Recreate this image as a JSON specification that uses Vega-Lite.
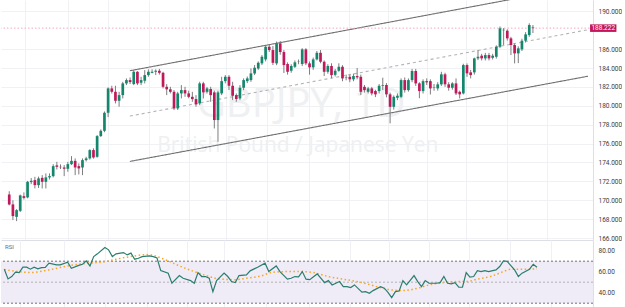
{
  "$schema": "https://vega.github.io/schema/vega-lite/v6.json",
  "padding": 0,
  "autosize": {"type": "pad"},
  "background": "#ffffff",
  "spacing": 0,
  "bounds": "flush",
  "config": {
    "view": {"stroke": null},
    "font": "Roboto",
    "axis": {"labelFont": "Roboto", "labelFontSize": 6.5, "labelColor": "#3b3b3b", "ticks": false, "tickSize": 0, "labelPadding": 5, "labelOverlap": false, "labelFlush": false, "gridColor": "#eff1f4", "domainColor": "#dcdfe6"}
  },
  "datasets": {
    "bars": [
      {"i":0,"o":170.61,"h":170.95,"l":169.45,"c":169.56},
      {"i":1,"o":169.56,"h":170.0,"l":167.9,"c":168.32},
      {"i":2,"o":168.24,"h":169.06,"l":167.79,"c":168.95},
      {"i":3,"o":168.88,"h":170.6,"l":168.75,"c":170.51},
      {"i":4,"o":170.43,"h":170.83,"l":170.08,"c":170.25},
      {"i":5,"o":170.30,"h":172.05,"l":170.2,"c":171.95},
      {"i":6,"o":171.92,"h":172.35,"l":171.7,"c":172.06},
      {"i":7,"o":172.13,"h":172.48,"l":171.25,"c":171.60},
      {"i":8,"o":171.60,"h":172.5,"l":171.3,"c":172.31},
      {"i":9,"o":172.37,"h":172.66,"l":171.25,"c":171.95},
      {"i":10,"o":171.95,"h":172.84,"l":171.25,"c":172.42},
      {"i":11,"o":172.42,"h":172.84,"l":172.2,"c":172.55},
      {"i":12,"o":172.55,"h":173.82,"l":172.42,"c":173.61},
      {"i":13,"o":173.69,"h":174.07,"l":173.26,"c":173.54},
      {"i":14,"o":173.54,"h":173.8,"l":173.3,"c":173.5},
      {"i":15,"o":173.47,"h":173.72,"l":172.55,"c":173.33},
      {"i":16,"o":173.33,"h":174.07,"l":173.01,"c":173.82},
      {"i":17,"o":173.82,"h":174.67,"l":173.72,"c":174.17},
      {"i":18,"o":174.17,"h":174.43,"l":172.66,"c":173.47},
      {"i":19,"o":173.61,"h":173.9,"l":172.73,"c":173.37},
      {"i":20,"o":173.47,"h":174.43,"l":172.66,"c":174.25},
      {"i":21,"o":174.25,"h":174.6,"l":174.1,"c":174.43},
      {"i":22,"o":174.43,"h":175.4,"l":174.3,"c":175.31},
      {"i":23,"o":175.31,"h":175.5,"l":174.4,"c":174.53},
      {"i":24,"o":174.60,"h":176.9,"l":174.5,"c":176.79},
      {"i":25,"o":176.79,"h":177.5,"l":176.7,"c":177.35},
      {"i":26,"o":177.35,"h":179.4,"l":177.2,"c":179.26},
      {"i":27,"o":179.26,"h":181.95,"l":178.8,"c":181.84},
      {"i":28,"o":181.84,"h":182.12,"l":181.3,"c":181.48},
      {"i":29,"o":181.48,"h":182.12,"l":180.25,"c":180.53},
      {"i":30,"o":180.53,"h":181.48,"l":179.9,"c":181.13},
      {"i":31,"o":181.13,"h":182.54,"l":180.78,"c":182.37},
      {"i":32,"o":182.37,"h":182.9,"l":182.19,"c":182.72},
      {"i":33,"o":182.72,"h":183.0,"l":182.3,"c":182.51},
      {"i":34,"o":182.30,"h":183.78,"l":182.19,"c":183.60},
      {"i":35,"o":183.60,"h":183.67,"l":182.19,"c":182.37},
      {"i":36,"o":182.44,"h":183.07,"l":182.19,"c":182.72},
      {"i":37,"o":182.65,"h":183.78,"l":182.37,"c":183.25},
      {"i":38,"o":183.25,"h":183.86,"l":183.07,"c":183.60},
      {"i":39,"o":183.49,"h":183.86,"l":183.43,"c":183.60},
      {"i":40,"o":183.60,"h":183.86,"l":183.25,"c":183.71},
      {"i":41,"o":183.71,"h":183.9,"l":183.3,"c":183.49},
      {"i":42,"o":183.49,"h":183.6,"l":181.84,"c":182.01},
      {"i":43,"o":182.01,"h":182.30,"l":181.13,"c":181.74},
      {"i":44,"o":181.74,"h":182.01,"l":181.31,"c":181.48},
      {"i":45,"o":181.48,"h":181.66,"l":179.55,"c":179.72},
      {"i":46,"o":179.72,"h":181.48,"l":179.55,"c":181.31},
      {"i":47,"o":181.31,"h":182.19,"l":180.78,"c":181.66},
      {"i":48,"o":181.66,"h":182.01,"l":180.95,"c":181.31},
      {"i":49,"o":181.31,"h":181.6,"l":180.8,"c":180.95},
      {"i":50,"o":180.95,"h":181.48,"l":180.42,"c":180.71},
      {"i":51,"o":180.71,"h":181.13,"l":179.9,"c":180.15},
      {"i":52,"o":180.25,"h":182.54,"l":180.07,"c":182.37},
      {"i":53,"o":182.37,"h":182.54,"l":180.78,"c":181.42},
      {"i":54,"o":181.48,"h":182.0,"l":181.3,"c":181.84},
      {"i":55,"o":181.77,"h":182.01,"l":180.42,"c":181.13},
      {"i":56,"o":181.42,"h":181.6,"l":177.6,"c":178.49},
      {"i":57,"o":178.49,"h":181.6,"l":176.19,"c":181.42},
      {"i":58,"o":181.31,"h":183.07,"l":181.13,"c":182.61},
      {"i":59,"o":182.61,"h":183.25,"l":182.37,"c":183.07},
      {"i":60,"o":183.07,"h":183.25,"l":181.66,"c":182.12},
      {"i":61,"o":182.12,"h":182.54,"l":180.6,"c":181.06},
      {"i":62,"o":181.13,"h":181.31,"l":180.42,"c":180.71},
      {"i":63,"o":180.78,"h":182.19,"l":180.6,"c":181.91},
      {"i":64,"o":181.91,"h":182.9,"l":181.66,"c":182.72},
      {"i":65,"o":182.61,"h":183.1,"l":182.4,"c":182.90},
      {"i":66,"o":182.72,"h":183.96,"l":182.54,"c":183.43},
      {"i":67,"o":183.43,"h":184.31,"l":183.25,"c":184.03},
      {"i":68,"o":183.96,"h":184.7,"l":183.8,"c":184.55},
      {"i":69,"o":184.49,"h":185.37,"l":184.31,"c":185.19},
      {"i":70,"o":184.91,"h":186.4,"l":184.7,"c":186.25},
      {"i":71,"o":186.25,"h":186.5,"l":185.7,"c":185.90},
      {"i":72,"o":185.90,"h":186.32,"l":184.31,"c":184.55},
      {"i":73,"o":184.49,"h":186.8,"l":184.3,"c":186.61},
      {"i":74,"o":186.61,"h":186.85,"l":185.4,"c":185.69},
      {"i":75,"o":185.69,"h":185.9,"l":183.47,"c":184.31},
      {"i":76,"o":184.42,"h":184.6,"l":183.3,"c":183.60},
      {"i":77,"o":183.71,"h":184.4,"l":183.5,"c":184.21},
      {"i":78,"o":184.13,"h":184.8,"l":184.0,"c":184.60},
      {"i":79,"o":184.65,"h":184.9,"l":184.4,"c":184.68},
      {"i":80,"o":184.42,"h":186.1,"l":184.2,"c":185.97},
      {"i":81,"o":185.97,"h":186.1,"l":184.3,"c":184.49},
      {"i":82,"o":184.49,"h":184.7,"l":183.3,"c":184.07},
      {"i":83,"o":184.07,"h":185.1,"l":183.8,"c":184.91},
      {"i":84,"o":184.91,"h":185.8,"l":184.8,"c":185.61},
      {"i":85,"o":185.61,"h":185.9,"l":184.5,"c":184.66},
      {"i":86,"o":184.66,"h":184.8,"l":183.15,"c":183.60},
      {"i":87,"o":183.60,"h":184.4,"l":183.4,"c":184.21},
      {"i":88,"o":184.21,"h":184.5,"l":182.9,"c":183.25},
      {"i":89,"o":183.28,"h":183.9,"l":183.1,"c":183.71},
      {"i":90,"o":183.71,"h":184.5,"l":183.6,"c":184.13},
      {"i":91,"o":184.13,"h":184.3,"l":182.6,"c":182.90},
      {"i":92,"o":183.0,"h":183.3,"l":182.7,"c":183.05},
      {"i":93,"o":183.07,"h":183.3,"l":182.5,"c":182.80},
      {"i":94,"o":182.80,"h":183.4,"l":182.6,"c":183.15},
      {"i":95,"o":183.15,"h":184.0,"l":182.8,"c":183.01},
      {"i":96,"o":183.07,"h":183.3,"l":181.13,"c":181.48},
      {"i":97,"o":182.01,"h":182.2,"l":181.4,"c":181.66},
      {"i":98,"o":181.48,"h":182.0,"l":181.3,"c":181.84},
      {"i":99,"o":181.84,"h":182.0,"l":181.1,"c":181.31},
      {"i":100,"o":181.56,"h":181.7,"l":180.92,"c":181.21},
      {"i":101,"o":181.56,"h":182.3,"l":181.3,"c":182.12},
      {"i":102,"o":182.12,"h":182.97,"l":181.66,"c":182.2},
      {"i":103,"o":182.2,"h":182.4,"l":180.9,"c":181.21},
      {"i":104,"o":181.21,"h":181.4,"l":178.14,"c":179.89},
      {"i":105,"o":179.89,"h":181.1,"l":179.6,"c":180.95},
      {"i":106,"o":180.85,"h":181.3,"l":180.6,"c":181.06},
      {"i":107,"o":180.95,"h":182.9,"l":180.8,"c":182.72},
      {"i":108,"o":182.72,"h":183.0,"l":181.4,"c":181.66},
      {"i":109,"o":181.66,"h":182.9,"l":181.5,"c":182.72},
      {"i":110,"o":182.72,"h":183.9,"l":182.5,"c":183.68},
      {"i":111,"o":183.68,"h":183.9,"l":182.1,"c":182.37},
      {"i":112,"o":182.37,"h":182.5,"l":180.8,"c":181.56},
      {"i":113,"o":181.56,"h":182.8,"l":181.3,"c":182.61},
      {"i":114,"o":182.61,"h":182.9,"l":182.2,"c":182.48},
      {"i":115,"o":182.61,"h":182.8,"l":181.2,"c":181.84},
      {"i":116,"o":181.9,"h":182.3,"l":181.6,"c":181.95},
      {"i":117,"o":181.84,"h":182.5,"l":181.6,"c":182.27},
      {"i":118,"o":182.27,"h":183.6,"l":182.1,"c":183.33},
      {"i":119,"o":183.33,"h":183.5,"l":182.0,"c":182.27},
      {"i":120,"o":182.27,"h":182.5,"l":181.6,"c":181.91},
      {"i":121,"o":181.91,"h":182.5,"l":181.7,"c":182.37},
      {"i":122,"o":182.37,"h":182.9,"l":181.13,"c":181.31},
      {"i":123,"o":181.48,"h":181.6,"l":180.78,"c":181.21},
      {"i":124,"o":181.31,"h":184.45,"l":181.2,"c":184.31},
      {"i":125,"o":184.31,"h":184.49,"l":183.07,"c":183.43},
      {"i":126,"o":183.54,"h":183.8,"l":182.9,"c":183.25},
      {"i":127,"o":183.54,"h":185.1,"l":183.3,"c":185.02},
      {"i":128,"o":185.02,"h":185.9,"l":184.84,"c":185.19},
      {"i":129,"o":185.30,"h":185.5,"l":184.8,"c":185.02},
      {"i":130,"o":185.02,"h":185.6,"l":184.8,"c":185.37},
      {"i":131,"o":185.37,"h":185.6,"l":184.8,"c":185.02},
      {"i":132,"o":185.08,"h":185.5,"l":184.9,"c":185.30},
      {"i":133,"o":185.19,"h":186.4,"l":185.0,"c":186.25},
      {"i":134,"o":186.25,"h":188.4,"l":186.1,"c":188.20},
      {"i":135,"o":188.0,"h":188.23,"l":186.43,"c":188.05},
      {"i":136,"o":187.95,"h":188.1,"l":186.9,"c":187.14},
      {"i":137,"o":187.14,"h":187.3,"l":185.37,"c":186.43},
      {"i":138,"o":186.43,"h":186.6,"l":184.49,"c":185.55},
      {"i":139,"o":185.55,"h":186.3,"l":184.52,"c":186.08},
      {"i":140,"o":185.97,"h":187.1,"l":185.8,"c":186.89},
      {"i":141,"o":186.89,"h":187.8,"l":186.7,"c":187.56},
      {"i":142,"o":187.49,"h":188.73,"l":187.3,"c":188.55},
      {"i":143,"o":188.29,"h":188.55,"l":187.7,"c":188.222}
    ],
    "chan": [
      {"line":"upper","i":32.94,"p":183.71},
      {"line":"upper","i":158.04,"p":192.79},
      {"line":"mid","i":32.94,"p":178.91},
      {"line":"mid","i":158.04,"p":188.05},
      {"line":"lower","i":32.94,"p":174.11},
      {"line":"lower","i":158.04,"p":183.13}
    ],
    "rsi": [
      {"i":0,"v":62.4},{"i":1,"v":53.1},{"i":2,"v":55.4},{"i":3,"v":59.5},{"i":4,"v":59.2},{"i":5,"v":64.3},{"i":6,"v":64.3},{"i":7,"v":62.4},{"i":8,"v":64.3},{"i":9,"v":62.7},{"i":10,"v":63.9},{"i":11,"v":64.1},{"i":12,"v":68.1},{"i":14,"v":66.5},{"i":15,"v":66.5},{"i":17,"v":69},{"i":18,"v":63.3},{"i":20,"v":66},{"i":21,"v":67.1},{"i":22,"v":70.3},{"i":23,"v":65.5},{"i":24,"v":74.4},{"i":25,"v":77},{"i":27,"v":83},{"i":28,"v":80.8},{"i":29,"v":74.4},{"i":30,"v":77},{"i":32,"v":78.2},{"i":33,"v":76},{"i":34,"v":77.7},{"i":35,"v":71.9},{"i":36,"v":72.8},{"i":37,"v":74.4},{"i":39,"v":75},{"i":40,"v":74.4},{"i":41,"v":73},{"i":42,"v":61},{"i":44,"v":58.6},{"i":45,"v":49},{"i":47,"v":56.3},{"i":48,"v":53.8},{"i":50,"v":51.5},{"i":51,"v":49},{"i":52,"v":59.2},{"i":53,"v":55.4},{"i":54,"v":55.4},{"i":55,"v":53.8},{"i":56,"v":41},{"i":57,"v":51.5},{"i":59,"v":58.6},{"i":60,"v":55.4},{"i":61,"v":50.6},{"i":62,"v":49.6},{"i":63,"v":56.3},{"i":65,"v":57},{"i":66,"v":60.8},{"i":68,"v":64.3},{"i":70,"v":68.1},{"i":71,"v":60.1},{"i":73,"v":65.5},{"i":74,"v":60.1},{"i":76,"v":52.9},{"i":77,"v":53.8},{"i":78,"v":55.4},{"i":79,"v":55},{"i":80,"v":60.1},{"i":81,"v":52.9},{"i":82,"v":52.4},{"i":84,"v":57.9},{"i":86,"v":49.6},{"i":87,"v":51.5},{"i":88,"v":47.4},{"i":90,"v":50.6},{"i":91,"v":45.8},{"i":92,"v":45.8},{"i":93,"v":44.9},{"i":94,"v":47.4},{"i":96,"v":40.5},{"i":97,"v":41},{"i":98,"v":39.5},{"i":99,"v":42},{"i":101,"v":45.8},{"i":102,"v":44.3},{"i":103,"v":40.3},{"i":104,"v":35.3},{"i":105,"v":41},{"i":106,"v":41.7},{"i":107,"v":51.5},{"i":108,"v":47.4},{"i":110,"v":56.3},{"i":111,"v":50.6},{"i":112,"v":45.8},{"i":113,"v":51.5},{"i":114,"v":49},{"i":116,"v":49},{"i":117,"v":49.6},{"i":118,"v":55.4},{"i":119,"v":49},{"i":120,"v":48.5},{"i":121,"v":49.6},{"i":122,"v":45.2},{"i":123,"v":45.2},{"i":124,"v":59.2},{"i":125,"v":54.8},{"i":126,"v":55.4},{"i":127,"v":61},{"i":128,"v":60.1},{"i":129,"v":61},{"i":130,"v":60.1},{"i":132,"v":61.7},{"i":133,"v":64.9},{"i":134,"v":70.3},{"i":135,"v":69.8},{"i":137,"v":61.7},{"i":138,"v":55.4},{"i":139,"v":58.6},{"i":141,"v":62.4},{"i":142,"v":67.1},{"i":143,"v":64.3}
    ],
    "rsima": [
      {"i":0,"v":62},{"i":4,"v":60},{"i":7,"v":59.2},{"i":12,"v":61.7},{"i":17,"v":65.5},{"i":22,"v":68},{"i":27,"v":69.5},{"i":30,"v":71.9},{"i":35,"v":75},{"i":38,"v":76.3},{"i":40,"v":75.6},{"i":41,"v":74.4},{"i":44,"v":70.3},{"i":47,"v":65.5},{"i":51,"v":60.1},{"i":55,"v":55.4},{"i":58,"v":52.9},{"i":62,"v":52.4},{"i":65,"v":53.8},{"i":69,"v":56},{"i":72,"v":59.5},{"i":76,"v":60.1},{"i":80,"v":60.1},{"i":83,"v":59.2},{"i":87,"v":55.4},{"i":91,"v":52.9},{"i":96,"v":49.6},{"i":100,"v":45.8},{"i":104,"v":42.6},{"i":107,"v":42},{"i":111,"v":44.3},{"i":114,"v":47.4},{"i":118,"v":49.6},{"i":122,"v":50.6},{"i":124,"v":50.6},{"i":127,"v":52.9},{"i":131,"v":56},{"i":134,"v":60.1},{"i":136,"v":62.4},{"i":140,"v":62.4},{"i":143,"v":62.7}
    ],
    "band": [{"lo":30,"hi":70}],
    "levels": [{"lv":70,"k":"edge"},{"lv":50,"k":"mid"},{"lv":30,"k":"edge"}]
  },
  "vconcat": [
    {
      "width": 592,
      "height": 240,
      "layer": [
        {
          "data": {"values": [{}]},
          "mark": {"type": "text", "font": "Open Sans", "fontSize": 40, "color": "#eef0f2", "align": "center", "baseline": "alphabetic"},
          "encoding": {
            "x": {"datum": 79.7, "type": "quantitative", "scale": {"domain": [-0.886, 158.04], "nice": false, "zero": false},
                  "axis": {"title": null, "orient": "bottom", "labels": false, "ticks": false, "domain": true, "grid": true, "tickCount": 40, "values": [4.2, 16.1, 27.1, 38.2, 49.0, 59.1, 70.3, 81.9, 92.9, 103.4, 114.1, 124.8, 135.8, 146.8]}},
            "y": {"datum": 178.81, "type": "quantitative", "scale": {"domain": [165.79, 191.2], "nice": false, "zero": false},
                  "axis": {"title": null, "orient": "right", "format": ".3f", "grid": true, "domain": true, "labelOverlap": false, "labelFlush": false, "tickCount": 40, "values": [166,168,170,172,174,176,178,180,182,184,186,190]}},
            "text": {"value": "GBPJPY, 1D"}
          }
        },
        {
          "data": {"values": [{}]},
          "mark": {"type": "text", "font": "Open Sans", "fontSize": 21, "color": "#eef0f2", "align": "center", "baseline": "alphabetic"},
          "encoding": {
            "x": {"datum": 78.8, "type": "quantitative"},
            "y": {"datum": 175.11, "type": "quantitative"},
            "text": {"value": "British Pound / Japanese Yen"}
          }
        },
        {
          "data": {"name": "chan"},
          "mark": {"type": "line", "clip": true, "strokeWidth": 1.1},
          "encoding": {
            "x": {"field": "i", "type": "quantitative", "title": null},
            "y": {"field": "p", "type": "quantitative", "title": null},
            "detail": {"field": "line"},
            "color": {"field": "line", "type": "nominal", "scale": {"domain": ["upper", "mid", "lower"], "range": ["#707070", "#b3b3b3", "#707070"]}, "legend": null},
            "strokeDash": {"field": "line", "type": "nominal", "scale": {"domain": ["upper", "mid", "lower"], "range": [[1, 0], [3, 3], [1, 0]]}, "legend": null}
          }
        },
        {
          "data": {"values": [{}]},
          "mark": {"type": "rule", "color": "#f2a9bf", "strokeDash": [1.5, 2], "strokeWidth": 1},
          "encoding": {"y": {"datum": 188.222, "type": "quantitative"}}
        },
        {
          "data": {"name": "bars"},
          "mark": {"type": "rule", "color": "#7d7d7d", "strokeWidth": 1, "clip": true},
          "encoding": {
            "x": {"field": "i", "type": "quantitative", "title": null},
            "y": {"field": "l", "type": "quantitative", "title": null},
            "y2": {"field": "h"}
          }
        },
        {
          "data": {"name": "bars"},
          "mark": {"type": "bar", "size": 2.7, "clip": true},
          "encoding": {
            "x": {"field": "i", "type": "quantitative", "title": null},
            "y": {"field": "o", "type": "quantitative", "title": null},
            "y2": {"field": "c"},
            "color": {"condition": {"test": "datum.c >= datum.o", "value": "#14866d"}, "value": "#c0185a"}
          }
        },
        {
          "data": {"values": [{}]},
          "mark": {"type": "rect", "color": "#c2185b", "clip": false},
          "encoding": {
            "x": {"datum": 158.6, "type": "quantitative"},
            "x2": {"datum": 165.8},
            "y": {"datum": 188.62, "type": "quantitative"},
            "y2": {"datum": 187.82}
          }
        },
        {
          "data": {"values": [{}]},
          "mark": {"type": "text", "color": "#ffffff", "fontSize": 6.5, "font": "Roboto", "align": "center", "baseline": "middle", "clip": false},
          "encoding": {
            "x": {"datum": 162.2, "type": "quantitative"},
            "y": {"datum": 188.222, "type": "quantitative"},
            "text": {"value": "188.222"}
          }
        }
      ]
    },
    {
      "width": 592,
      "height": 67,
      "layer": [
        {
          "data": {"name": "band"},
          "mark": {"type": "rect", "color": "#efebf7"},
          "encoding": {
            "y": {"field": "lo", "type": "quantitative", "scale": {"domain": [26.38, 90.19], "nice": false, "zero": false},
                  "axis": {"title": null, "orient": "right", "format": ".2f", "grid": false, "domain": true, "labelOverlap": false, "labelFlush": false, "tickCount": 40, "values": [40, 60, 80]}},
            "y2": {"field": "hi"}
          }
        },
        {
          "data": {"name": "levels"},
          "mark": {"type": "rule", "strokeDash": [2, 2], "strokeWidth": 1},
          "encoding": {
            "y": {"field": "lv", "type": "quantitative", "title": null},
            "color": {"field": "k", "type": "nominal", "scale": {"domain": ["edge", "mid"], "range": ["#a3a6ae", "#c4c6cc"]}, "legend": null}
          }
        },
        {
          "data": {"name": "rsima"},
          "mark": {"type": "line", "color": "#f5a623", "strokeWidth": 1.5, "strokeDash": [1.5, 2.5], "interpolate": "monotone", "clip": true},
          "encoding": {
            "x": {"field": "i", "type": "quantitative", "title": null},
            "y": {"field": "v", "type": "quantitative", "title": null}
          }
        },
        {
          "data": {"name": "rsi"},
          "mark": {"type": "line", "color": "#2b7e6d", "strokeWidth": 1.2, "clip": true},
          "encoding": {
            "x": {"field": "i", "type": "quantitative", "title": null, "scale": {"domain": [-0.886, 158.04], "nice": false, "zero": false},
                  "axis": {"title": null, "orient": "bottom", "labels": false, "ticks": false, "domain": false, "grid": true, "tickCount": 40, "values": [4.2, 16.1, 27.1, 38.2, 49.0, 59.1, 70.3, 81.9, 92.9, 103.4, 114.1, 124.8, 135.8, 146.8]}},
            "y": {"field": "v", "type": "quantitative", "title": null}
          }
        },
        {
          "data": {"values": [{}]},
          "mark": {"type": "text", "color": "#6a6d78", "fontSize": 6, "font": "Roboto", "align": "left", "baseline": "middle"},
          "encoding": {
            "x": {"datum": 0.2, "type": "quantitative"},
            "y": {"datum": 83.8, "type": "quantitative"},
            "text": {"value": "RSI"}
          }
        }
      ]
    }
  ]
}
